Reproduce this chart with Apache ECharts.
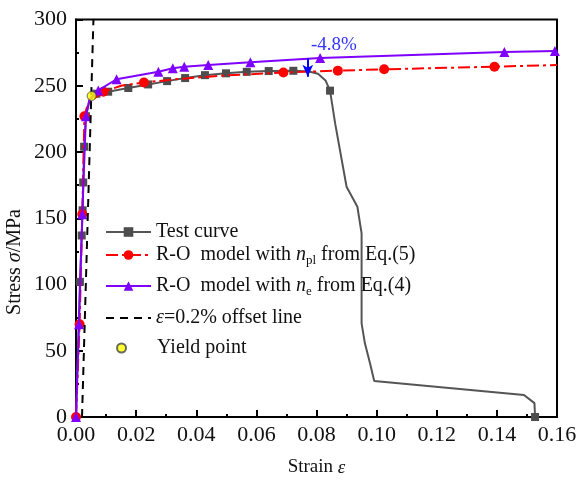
<!DOCTYPE html>
<html><head><meta charset="utf-8">
<script src="https://cdn.jsdelivr.net/npm/echarts@6/dist/echarts.min.js"></script>
<style>html,body{margin:0;padding:0;background:#fff}#c{width:581px;height:482px}</style>
</head><body><div id="c"></div>
<script>
// Test curve: [strain, stress, showMarker]
var testCurve = [
  [0,0,0],[0.0013,102,1],[0.0019,137,1],[0.0022,156,1],[0.0024,177,1],[0.0027,204,1],
  [0.0033,227,1],[0.0045,239,0],[0.0068,244,1],[0.0107,245.5,1],[0.0174,248.3,1],
  [0.0240,251,1],[0.0303,253.5,1],[0.0363,255.8,1],[0.0429,258,1],[0.0499,259.4,1],
  [0.0568,260.5,1],[0.0641,261.1,1],[0.0723,261.3,1],[0.0775,260.8,0],[0.0805,259,0],
  [0.0830,254,0],[0.0845,246.3,1],[0.0862,221.6,0],[0.0900,173.8,0],[0.0936,158.7,0],
  [0.0950,138.6,0],[0.0950,70.7,0],[0.0961,55.6,0],[0.0978,40.5,0],[0.0992,27.2,0],
  [0.1490,16.6,0],[0.1525,10.5,0],[0.1527,0,1]
];
// R-O model with n_pl
var roPl = [
  [0,0,1],[0.0012,70,1],[0.0021,153,1],[0.0028,227,1],[0.0040,237,0],[0.0091,245.5,1],
  [0.0150,250,0],[0.0226,252.5,1],[0.0350,255.3,0],[0.0500,257.8,0],[0.0690,260,1],
  [0.0871,261.4,1],[0.1025,262.4,1],[0.1392,264.4,1],[0.1600,265.6,0]
];
// R-O model with n_e
var roE = [
  [0,0,1],[0.0010,70,1],[0.0021,153,1],[0.0033,227,1],[0.0045,240,0],[0.0074,246.5,1],
  [0.0135,254.9,1],[0.0274,260.6,1],[0.0322,263.2,1],[0.0360,264.4,1],[0.0440,265.7,1],
  [0.0580,267.7,1],[0.0812,271,1],[0.1425,275.5,1],[0.1593,276.2,1]
];
var offsetLine = [[0.0020,0],[0.0058,300]];
var yieldPoint = [[0.0052,242.3]];
var arrowFrom = [0.0771,270.7], arrowTo = [0.0771,256.8];
var annotText = '-4.8%', annotPos = [0.0858,280.8];
var xTicks = {min:0,max:0.16,interval:0.02};
var yTicks = {min:0,max:300,interval:50};

var names = ['Test curve','R-O model with n_pl','R-O model with n_e','offset','Yield point'];
function pts(arr){return arr.map(function(p){return {value:[p[0],p[1]],symbol:p[2]?undefined:'none'};});}

var FONT = 'Liberation Serif';
var richBase = {
  a:{fontFamily:FONT,fontSize:20,color:'#111'},
  i:{fontFamily:FONT,fontSize:20,fontStyle:'italic',color:'#111'},
  s:{fontFamily:FONT,fontSize:13,color:'#111',verticalAlign:'bottom',padding:[0,0,-2,0]}
};
var richName = {
  a:{fontFamily:FONT,fontSize:19,color:'#111'},
  i:{fontFamily:FONT,fontSize:19,fontStyle:'italic',color:'#111'}
};
function legendAt(name, top, fmt, extra){
  var o = {data:[name],left:105,top:top,itemWidth:45,itemHeight:12,itemGap:0,
    textStyle:{fontFamily:FONT,fontSize:20,color:'#111',rich:richBase},
    formatter:function(){return fmt;}, selectedMode:false, padding:0};
  for (var k in extra) o[k]=extra[k];
  return o;
}

var chart = echarts.init(document.getElementById('c'),null,{renderer:'canvas'});
chart.setOption({
  animation:false,
  backgroundColor:'#fff',
  grid:{left:76,right:24,top:19.5,bottom:65,show:true,borderColor:'#000',borderWidth:2},
  legend:[
    legendAt(names[0],222,'{a|Test curve}'),
    legendAt(names[1],245,'{a|R-O  model with }{i|n}{s|pl}{a| from Eq.(5)}'),
    legendAt(names[2],276,'{a|R-O  model with }{i|n}{s|e}{a| from Eq.(4)}'),
    legendAt(names[3],308,'{i|ε}{a|=0.2% offset line}',{itemStyle:{color:'rgba(0,0,0,0)',borderWidth:0}}),
    legendAt(names[4],338,'{a|Yield point}',{left:116,itemWidth:9,itemHeight:9,
      textStyle:{fontFamily:FONT,fontSize:20,color:'#111',padding:[0,0,0,26],rich:richBase}})
  ],
  xAxis:{type:'value',min:xTicks.min,max:xTicks.max,interval:xTicks.interval,
    name:'{a|Strain }{i|ε}',nameLocation:'middle',nameGap:41,
    nameTextStyle:{fontFamily:FONT,fontSize:19,color:'#111',rich:richName},
    axisLine:{lineStyle:{color:'#000',width:2}},
    axisTick:{inside:true,length:7,lineStyle:{width:2,color:'#000'}},
    minorTick:{show:true,splitNumber:2,length:3,lineStyle:{width:2,color:'#000'}},
    splitLine:{show:false},
    axisLabel:{fontFamily:FONT,fontSize:22,color:'#111',margin:7,formatter:function(v){return v.toFixed(2);}}
  },
  yAxis:{type:'value',min:yTicks.min,max:yTicks.max,interval:yTicks.interval,
    axisLine:{lineStyle:{color:'#000',width:2}},
    axisTick:{inside:true,length:7,lineStyle:{width:2,color:'#000'}},
    minorTick:{show:true,splitNumber:2,length:3,lineStyle:{width:2,color:'#000'}},
    splitLine:{show:false},
    axisLabel:{fontFamily:FONT,fontSize:22,color:'#111',margin:9}
  },
  graphic:[{type:'text',x:15,y:262,rotation:Math.PI/2,
    style:{text:'{a|Stress }{i|σ}{a|/MPa}',rich:{
      a:{fontFamily:FONT,fontSize:20,fill:'#111'},
      i:{fontFamily:FONT,fontSize:20,fontStyle:'italic',fill:'#111'}},
      align:'center',verticalAlign:'middle'},
    originX:0,originY:0}],
  series:[
    {name:names[0],type:'line',data:pts(testCurve),symbol:'rect',symbolSize:8,
     itemStyle:{color:'#4d4d4d'},lineStyle:{color:'#555',width:2},z:2},
    {name:names[1],type:'line',data:pts(roPl),symbol:'circle',symbolSize:10,smooth:false,
     itemStyle:{color:'#ff0000'},lineStyle:{color:'#ff0000',width:2,type:[12,4,3,4]},z:3},
    {name:names[2],type:'line',data:pts(roE),symbol:'triangle',symbolSize:10,
     itemStyle:{color:'#8000ff'},lineStyle:{color:'#8000ff',width:2},z:4,
     markLine:{silent:true,symbol:['none','arrow'],symbolSize:[8,12],
       lineStyle:{color:'#0000ff',width:2,type:'solid'},label:{show:false},
       data:[[{coord:arrowFrom},{coord:arrowTo}]]},
     markPoint:{silent:true,symbol:'circle',symbolSize:0,
       label:{show:true,position:'inside',formatter:annotText,fontFamily:FONT,fontSize:19,color:'#3333ff'},
       data:[{coord:annotPos}]}},
    {name:names[3],type:'line',data:offsetLine,symbol:'none',
     lineStyle:{color:'#000',width:2,type:[8,6]},itemStyle:{color:'#000'},z:5},
    {name:names[4],type:'scatter',data:yieldPoint,symbol:'circle',symbolSize:9,
     itemStyle:{color:'#ffff00',borderColor:'#444',borderWidth:1},z:6}
  ]
});
</script></body></html>
